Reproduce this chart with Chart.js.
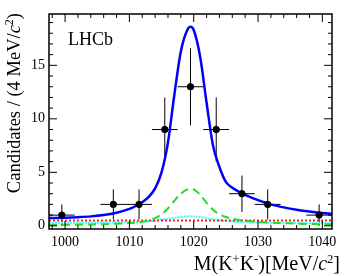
<!DOCTYPE html>
<html>
<head>
<meta charset="utf-8">
<script src="https://cdn.jsdelivr.net/npm/chart.js@4/dist/chart.umd.min.js"></script>
<style>
body { margin: 0; background: #fff; }
#wrap { width: 349px; height: 276px; position: relative; }
</style>
</head>
<body>
<div id="wrap"><canvas id="massPlot"></canvas></div>
<script>
// data points (4 MeV bins)
const binCenters = [999.5, 1007.5, 1011.5, 1015.5, 1019.5, 1023.5, 1027.5, 1031.5, 1039.5];
const counts = [1, 2, 2, 9, 13, 9, 3, 2, 1];
const countErr = [1, 1.4, 1.4, 3, 3.6, 3, 1.7, 1.4, 1];
const binHalf = 2;

// fit curves
const massGrid = [997.5, 1000, 1002, 1004, 1006, 1008, 1010, 1011, 1012, 1013, 1014, 1015, 1016, 1017, 1018, 1019, 1019.5,
  1020, 1021, 1022, 1023, 1024, 1025, 1026, 1027, 1028, 1030, 1032, 1034, 1036, 1038, 1040, 1041.5];
const totalFit = [0.72, 0.76, 0.81, 0.88, 1.0, 1.22, 1.58, 1.85, 2.2, 2.7, 3.5, 5.0, 7.8, 12.3, 16.3, 18.3, 18.6,
  18.3, 15.8, 11.5, 7.5, 5.5, 4.1, 3.55, 3.2, 2.9, 2.4, 2.0, 1.72, 1.5, 1.33, 1.2, 1.12];
const signalFit = [0.08, 0.1, 0.11, 0.13, 0.15, 0.19, 0.25, 0.3, 0.37, 0.5, 0.72, 1.08, 1.62, 2.35, 3.0, 3.4, 3.45,
  3.4, 2.9, 2.15, 1.5, 1.08, 0.82, 0.66, 0.55, 0.47, 0.37, 0.3, 0.25, 0.2, 0.17, 0.15, 0.14];
const cyanFit = [0.27, 0.28, 0.28, 0.29, 0.3, 0.31, 0.33, 0.35, 0.38, 0.42, 0.48, 0.56, 0.65, 0.75, 0.83, 0.88, 0.89,
  0.88, 0.82, 0.72, 0.61, 0.51, 0.44, 0.39, 0.35, 0.33, 0.3, 0.29, 0.28, 0.27, 0.27, 0.26, 0.26];
const flatMass = [997.5, 1041.5];
const flatBkg = [0.5, 0.5];

const xTickValues = [1000, 1010, 1020, 1030, 1040];
const yTickValues = [0, 5, 10, 15];

const serif = "'Liberation Serif', 'DejaVu Serif', serif";

function pts(xs, ys) {
  return xs.map((v, i) => ({x: v, y: ys[i]}));
}

// draws text made of pieces with different fonts, right aligned at x
function richText(ctx, parts, x, y) {
  let w = 0;
  parts.forEach(p => { ctx.font = p.font; w += ctx.measureText(p.t).width; });
  let cx = x - w;
  parts.forEach(p => {
    ctx.font = p.font;
    ctx.fillText(p.t, cx, y - (p.dy || 0));
    cx += ctx.measureText(p.t).width;
  });
}

const errorBars = {
  id: 'errorBars',
  beforeDatasetsDraw(chart) {
    const {ctx, scales: {x, y}} = chart;
    ctx.save();
    ctx.strokeStyle = '#000';
    ctx.lineWidth = 1;
    binCenters.forEach((m, i) => {
      const px = x.getPixelForValue(m);
      const py = y.getPixelForValue(counts[i]);
      ctx.beginPath();
      ctx.moveTo(x.getPixelForValue(m - binHalf), py);
      ctx.lineTo(x.getPixelForValue(m + binHalf), py);
      ctx.moveTo(px, y.getPixelForValue(counts[i] - countErr[i]));
      ctx.lineTo(px, y.getPixelForValue(counts[i] + countErr[i]));
      ctx.stroke();
    });
    ctx.restore();
  }
};

const frameTicks = {
  id: 'frameTicks',
  afterDraw(chart) {
    const {ctx, chartArea: a, scales: {x, y}} = chart;
    ctx.save();
    ctx.strokeStyle = '#000';
    ctx.lineWidth = 1;
    ctx.beginPath();
    for (let v = 998; v <= 1041; v += 2) {
      const px = x.getPixelForValue(v);
      const len = v % 10 === 0 ? 8 : 4;
      ctx.moveTo(px, a.bottom); ctx.lineTo(px, a.bottom - len);
      ctx.moveTo(px, a.top); ctx.lineTo(px, a.top + len);
    }
    for (let v = 0; v <= 19; v++) {
      const py = y.getPixelForValue(v);
      const len = v % 5 === 0 ? 8 : 4;
      ctx.moveTo(a.left, py); ctx.lineTo(a.left + len, py);
      ctx.moveTo(a.right, py); ctx.lineTo(a.right - len, py);
    }
    ctx.stroke();
    ctx.lineWidth = 1.5;
    ctx.strokeRect(a.left, a.top, a.right - a.left, a.bottom - a.top);

    // labels
    ctx.fillStyle = '#000';
    ctx.textBaseline = 'alphabetic';
    ctx.font = '18px ' + serif;
    ctx.fillText('LHCb', 68, 45);

    const big = '20px ' + serif, bigI = 'italic 20px ' + serif, sup = '12.5px ' + serif;
    richText(ctx, [
      {t: 'M(K', font: big}, {t: '+', font: sup, dy: 7}, {t: 'K', font: big}, {t: '-', font: sup, dy: 7},
      {t: ')[MeV/', font: big}, {t: 'c', font: bigI}, {t: '2', font: sup, dy: 7}, {t: ']', font: big}
    ], 340, 270);

    ctx.translate(20, 13);
    ctx.rotate(-Math.PI / 2);
    const yt = '18.5px ' + serif, ytI = 'italic 18.5px ' + serif, ySup = '12px ' + serif;
    richText(ctx, [
      {t: 'Candidates / (4 MeV/', font: yt}, {t: 'c', font: ytI}, {t: '2', font: ySup, dy: 7}, {t: ')', font: yt}
    ], 0, 0);
    ctx.restore();
  }
};

new Chart(document.getElementById('massPlot'), {
  type: 'scatter',
  data: {
    datasets: [
      {
        label: 'Data', data: pts(binCenters, counts), order: 0,
        pointRadius: 3.2, pointBackgroundColor: '#000', pointBorderColor: '#000', showLine: false
      },
      {
        type: 'line', label: 'Total fit', data: pts(massGrid, totalFit), order: 1,
        borderColor: '#0000ff', borderWidth: 2.5, pointRadius: 0, cubicInterpolationMode: 'monotone', fill: false
      },
      {
        type: 'line', label: 'Signal', data: pts(massGrid, signalFit), order: 2,
        borderColor: '#22dd22', borderWidth: 2, borderDash: [8, 5], pointRadius: 0,
        cubicInterpolationMode: 'monotone', fill: false
      },
      {
        type: 'line', label: 'Flat', data: pts(flatMass, flatBkg), order: 3,
        borderColor: '#ff2020', borderWidth: 2, borderDash: [2, 2], pointRadius: 0, fill: false
      },
      {
        type: 'line', label: 'Other', data: pts(massGrid, cyanFit), order: 4,
        borderColor: '#33ffff', borderWidth: 2, borderDash: [2, 1], pointRadius: 0,
        cubicInterpolationMode: 'monotone', fill: false
      }
    ]
  },
  options: {
    responsive: true,
    maintainAspectRatio: false,
    animation: false,
    layout: {padding: {top: 14, right: 17, left: 0, bottom: 0}},
    plugins: {legend: {display: false}, tooltip: {enabled: false}},
    scales: {
      x: {
        type: 'linear', min: 997.5, max: 1041.5,
        afterBuildTicks: s => { s.ticks = xTickValues.map(v => ({value: v})); },
        afterFit: s => { s.height = 47; },
        grid: {display: false, drawTicks: false},
        border: {display: false},
        ticks: {color: '#000', font: {family: serif, size: 14}, padding: 5, maxRotation: 0, autoSkip: false,
          callback: v => String(v)}
      },
      y: {
        type: 'linear', min: -0.3, max: 19.8,
        afterBuildTicks: s => { s.ticks = yTickValues.map(v => ({value: v})); },
        afterFit: s => { s.width = 49; },
        grid: {display: false, drawTicks: false},
        border: {display: false},
        ticks: {color: '#000', font: {family: serif, size: 14}, padding: 4, callback: v => String(v)}
      }
    }
  },
  plugins: [errorBars, frameTicks]
});
</script>
</body>
</html>
